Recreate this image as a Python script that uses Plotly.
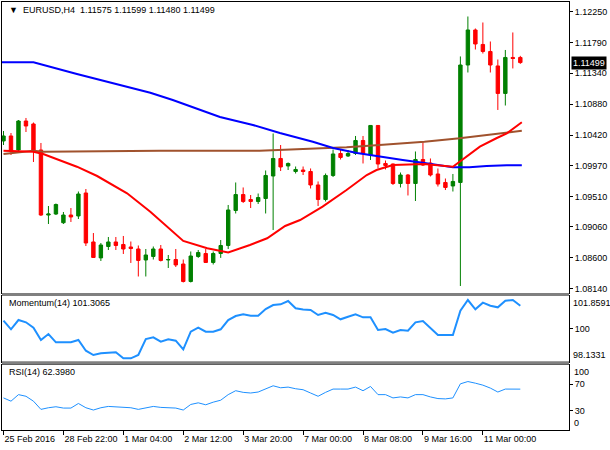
import plotly.graph_objects as go
from plotly.subplots import make_subplots

# ---- price data (H4 bars, index 0..69) ----
bar_open = [1.10336, 1.10410, 1.10202, 1.10632, 1.10588, 1.10202, 1.09237, 1.09252, 1.09123, 1.09237,
            1.09223, 1.09564, 1.08837, 1.08601, 1.08770, 1.08837, 1.08800, 1.08763, 1.08733, 1.08570,
            1.08622, 1.08733, 1.08570, 1.08577, 1.08510, 1.08251, 1.08622, 1.08666, 1.08533, 1.08666,
            1.08785, 1.09304, 1.09541, 1.09467, 1.09438, 1.09482, 1.09816, 1.10076, 1.09965, 1.09883,
            1.09905, 1.09883, 1.09683, 1.09467, 1.09824, 1.10150, 1.10113, 1.10150, 1.10343, 1.10128,
            1.10566, 1.10002, 1.09994, 1.09705, 1.09831, 1.09705, 1.10061, 1.10009, 1.09846, 1.09720,
            1.09668, 1.09720, 1.11463, 1.11983, 1.11768, 1.11664, 1.11449, 1.11041, 1.11575, 1.11575]
bar_high = [1.10484, 1.10454, 1.10647, 1.10677, 1.10610, 1.10306, 1.09371, 1.09408, 1.09282, 1.09341,
            1.09586, 1.09623, 1.08970, 1.08822, 1.08911, 1.08911, 1.08926, 1.08844, 1.08785, 1.08733,
            1.08770, 1.08792, 1.08644, 1.08733, 1.08577, 1.08696, 1.08718, 1.08733, 1.08696, 1.08866,
            1.09386, 1.09720, 1.09646, 1.09534, 1.09556, 1.09898, 1.10447, 1.10276, 1.10017, 1.09957,
            1.09957, 1.09928, 1.09735, 1.09853, 1.10209, 1.10202, 1.10202, 1.10410, 1.10410, 1.10573,
            1.10573, 1.10046, 1.10002, 1.09868, 1.09846, 1.10180, 1.10328, 1.10076, 1.09928, 1.09779,
            1.09846, 1.11590, 1.12183, 1.12005, 1.12094, 1.11812, 1.11545, 1.11686, 1.11946, 1.11599]
bar_low = [1.10276, 1.10128, 1.10187, 1.10469, 1.10024, 1.09223, 1.09104, 1.09237, 1.09104, 1.09134,
           1.09178, 1.08777, 1.08601, 1.08555, 1.08718, 1.08718, 1.08659, 1.08526, 1.08325, 1.08325,
           1.08577, 1.08548, 1.08451, 1.08466, 1.08236, 1.08236, 1.08601, 1.08526, 1.08503, 1.08601,
           1.08733, 1.09260, 1.09416, 1.09341, 1.09401, 1.09260, 1.09015, 1.09890, 1.09905, 1.09853,
           1.09831, 1.09631, 1.09371, 1.09438, 1.09801, 1.10061, 1.10098, 1.10128, 1.10002, 1.10054,
           1.09928, 1.09913, 1.09683, 1.09646, 1.09527, 1.09445, 1.09965, 1.09809, 1.09660, 1.09608,
           1.09586, 1.08184, 1.11352, 1.11693, 1.11634, 1.11352, 1.10796, 1.10862, 1.11412, 1.11480]
bar_close = [1.10410, 1.10187, 1.10632, 1.10558, 1.10202, 1.09237, 1.09252, 1.09393, 1.09237, 1.09208,
             1.09549, 1.08822, 1.08607, 1.08792, 1.08837, 1.08785, 1.08733, 1.08740, 1.08563, 1.08644,
             1.08733, 1.08563, 1.08577, 1.08496, 1.08251, 1.08629, 1.08681, 1.08533, 1.08666, 1.08785,
             1.09312, 1.09541, 1.09438, 1.09438, 1.09497, 1.09824, 1.10076, 1.09950, 1.10002, 1.09913,
             1.09883, 1.09683, 1.09467, 1.09824, 1.10143, 1.10091, 1.10150, 1.10343, 1.10150, 1.10566,
             1.09994, 1.09972, 1.09705, 1.09831, 1.09705, 1.10061, 1.09979, 1.09831, 1.09697, 1.09646,
             1.09735, 1.11463, 1.11983, 1.11775, 1.11664, 1.11463, 1.11041, 1.11575, 1.11560, 1.11499]
bars = list(range(len(bar_close)))

# ---- moving averages (read at sample bar positions) ----
ma_red_x = [0, 4, 5.3, 9.8, 12.5, 16.5, 19.6, 24, 27.2, 30, 32.9, 35.2, 37.6, 39.6, 42.6, 45.8,
            48.5, 49.8, 52, 56.2, 60, 61.8, 63.6, 65.8, 67.2, 69.2]
ma_red_y = [1.10192, 1.10177, 1.10143, 1.09954, 1.09816, 1.09559, 1.09286, 1.08852, 1.08743, 1.08681,
            1.08792, 1.08892, 1.09074, 1.09163, 1.09361, 1.09608, 1.09831, 1.09905, 1.09979, 1.09994,
            1.09954, 1.10103, 1.10251, 1.10376, 1.10450, 1.10613]
ma_brown_x = [0, 4, 5.3, 20.9, 34.2, 38.6, 45.8, 50.2, 56.2, 60.9, 64.5, 69.2]
ma_brown_y = [1.10143, 1.10192, 1.10177, 1.10192, 1.10192, 1.10212, 1.10242, 1.10276, 1.10325,
              1.10376, 1.10425, 1.10488]
ma_blue_x = [-0.2, 4, 9.8, 13.3, 19.6, 22.6, 28.9, 33.3, 36.9, 41.3, 44, 47.2, 50.2, 53.3, 56.2,
             60, 62.2, 64.5, 67.2, 69.2]
ma_blue_y = [1.11503, 1.11503, 1.11330, 1.11230, 1.11052, 1.10944, 1.10692, 1.10573, 1.10454, 1.10325,
             1.10232, 1.10158, 1.10103, 1.10054, 1.10009, 1.09945, 1.09945, 1.09965, 1.09975, 1.09975]

# ---- indicators ----
momentum = [100.454, 99.965, 100.494, 100.363, 100.056, 99.356, 99.697, 99.225, 99.225, 99.225,
            99.356, 98.747, 98.502, 98.599, 98.633, 98.656, 98.315, 98.315, 98.502, 99.413,
            99.509, 99.259, 99.396, 99.316, 98.827, 99.828, 100.056, 99.828, 99.828, 99.965,
            100.494, 100.721, 100.818, 100.738, 100.738, 101.119, 101.347, 101.387, 101.575, 101.159,
            101.091, 101.063, 100.778, 100.909, 100.778, 100.533, 100.681, 100.818, 100.647, 100.647,
            99.925, 99.982, 99.771, 99.925, 99.885, 100.363, 100.437, 100.021, 99.640, 99.640,
            99.640, 101.023, 101.631, 101.102, 101.478, 101.307, 101.216, 101.592, 101.631, 101.3065]
rsi = [49.0, 44.0, 54.0, 51.5, 44.0, 31.5, 34.0, 35.5, 33.5, 33.5,
       40.5, 34.0, 30.5, 34.0, 36.0, 35.0, 34.0, 34.0, 31.5, 34.0,
       36.0, 34.5, 34.5, 33.5, 30.5, 39.0, 41.5, 38.5, 42.5, 45.5,
       54.0, 60.0, 57.5, 56.5, 58.0, 63.0, 67.5, 64.5, 65.5, 63.0,
       61.5, 56.5, 51.5, 57.5, 62.5, 62.5, 62.5, 65.5, 60.0, 66.5,
       54.0, 54.0, 49.0, 50.5, 49.0, 54.0, 54.0, 50.5, 48.0, 47.5,
       49.0, 70.5, 74.0, 71.5, 68.5, 64.0, 58.0, 62.5, 62.5, 62.398]

price_ticks = [1.08140, 1.08600, 1.09060, 1.09510, 1.09970, 1.10420, 1.10880, 1.11340, 1.11790, 1.12250]
time_tick_bars = [0, 8, 16, 24, 32, 40, 48, 56, 64]
time_tick_labels = ["25 Feb 2016", "28 Feb 22:00", "1 Mar 04:00", "2 Mar 12:00", "3 Mar 20:00",
                    "7 Mar 00:00", "8 Mar 08:00", "9 Mar 16:00", "11 Mar 00:00"]
last_price = 1.11499
mom_max, mom_min = 101.8591, 98.1331

FONT = "Liberation Sans, Arial, sans-serif"
GREEN = "#008000"
RED = "#ff0000"

fig = make_subplots(rows=3, cols=1, shared_xaxes=True)

fig.add_trace(go.Candlestick(
    x=bars, open=bar_open, high=bar_high, low=bar_low, close=bar_close,
    increasing=dict(line=dict(color=GREEN, width=1), fillcolor=GREEN),
    decreasing=dict(line=dict(color=RED, width=1), fillcolor=RED),
    whiskerwidth=0, hoverinfo="skip"), row=1, col=1)

fig.add_trace(go.Scatter(x=ma_brown_x, y=ma_brown_y, mode="lines",
                         line=dict(color="#a0522d", width=2)), row=1, col=1)
fig.add_trace(go.Scatter(x=ma_blue_x, y=ma_blue_y, mode="lines",
                         line=dict(color="#0000ff", width=2)), row=1, col=1)
fig.add_trace(go.Scatter(x=ma_red_x, y=ma_red_y, mode="lines",
                         line=dict(color=RED, width=2)), row=1, col=1)

fig.add_trace(go.Scatter(x=bars, y=momentum, mode="lines",
                         line=dict(color="#1e90ff", width=2)), row=2, col=1)
fig.add_trace(go.Scatter(x=bars, y=rsi, mode="lines",
                         line=dict(color="#1e90ff", width=1)), row=3, col=1)

# level lines
fig.add_hline(y=last_price, line=dict(color="black", width=1), row=1, col=1)
fig.add_hline(y=100, line=dict(color="#c0c0c0", width=1, dash="dash"), row=2, col=1)
fig.add_hline(y=70, line=dict(color="#c0c0c0", width=1, dash="dash"), row=3, col=1)
fig.add_hline(y=30, line=dict(color="#c0c0c0", width=1, dash="dash"), row=3, col=1)

axis_common = dict(showline=True, mirror=True, linecolor="black", linewidth=1,
                   showgrid=False, zeroline=False)

for r in (1, 2, 3):
    fig.update_xaxes(range=[-0.2, 75.5], tickvals=time_tick_bars, ticktext=time_tick_labels,
                     showticklabels=(r == 3), ticks="outside" if r == 3 else "",
                     ticklen=4, tickcolor="black", ticklabelposition="outside right",
                     tickangle=0, rangeslider_visible=False, **axis_common, row=r, col=1)

fig.update_yaxes(domain=[0.3201, 1.0], range=[1.08080, 1.12398], side="right",
                 tickvals=price_ticks, tickformat=".5f", ticks="outside", ticklen=3,
                 tickcolor="black", **axis_common, row=1, col=1)
fig.update_yaxes(domain=[0.1600, 0.3131], range=[mom_min, mom_max], side="right",
                 tickvals=[100], ticktext=["100"], ticks="outside", ticklen=3,
                 tickcolor="black", **axis_common, row=2, col=1)
fig.update_yaxes(domain=[0.0, 0.1530], range=[0, 100], side="right",
                 tickvals=[30, 70], ticks="outside", ticklen=3,
                 tickcolor="black", **axis_common, row=3, col=1)

annotations = [
    dict(text="\u25bc  EURUSD,H4  1.11575 1.11599 1.11480 1.11499", xref="paper", yref="paper",
         x=0.008, y=0.998, xanchor="left", yanchor="top", showarrow=False,
         font=dict(size=9, color="black", family=FONT)),
    dict(text="Momentum(14) 101.3065", xref="paper", yref="paper",
         x=0.008, y=0.3131, xanchor="left", yanchor="top", showarrow=False,
         font=dict(size=9, color="black", family=FONT)),
    dict(text="RSI(14) 62.3980", xref="paper", yref="paper",
         x=0.008, y=0.1530, xanchor="left", yanchor="top", showarrow=False,
         font=dict(size=9, color="black", family=FONT)),
    dict(text="%.5f" % last_price, xref="paper", yref="y", x=1.0, y=last_price,
         xanchor="left", yanchor="middle", xshift=2, showarrow=False, bgcolor="black",
         borderpad=1, font=dict(size=9, color="white", family=FONT)),
    dict(text="%.4f" % mom_max, xref="paper", yref="y2", x=1.0, y=mom_max,
         xanchor="left", yanchor="top", xshift=2, showarrow=False,
         font=dict(size=9, color="black", family=FONT)),
    dict(text="%.4f" % mom_min, xref="paper", yref="y2", x=1.0, y=mom_min,
         xanchor="left", yanchor="bottom", xshift=2, showarrow=False,
         font=dict(size=9, color="black", family=FONT)),
    dict(text="100", xref="paper", yref="y3", x=1.0, y=100,
         xanchor="left", yanchor="top", xshift=3, showarrow=False,
         font=dict(size=9, color="black", family=FONT)),
    dict(text="0", xref="paper", yref="y3", x=1.0, y=0,
         xanchor="left", yanchor="bottom", xshift=3, showarrow=False,
         font=dict(size=9, color="black", family=FONT)),
]

# grey separators between the chart windows
shapes = [
    dict(type="rect", xref="paper", yref="paper", x0=0, x1=1, y0=0.3131, y1=0.3201,
         fillcolor="#808080", line=dict(width=0)),
    dict(type="rect", xref="paper", yref="paper", x0=0, x1=1, y0=0.1530, y1=0.1600,
         fillcolor="#808080", line=dict(width=0)),
]

fig.update_layout(
    width=610, height=450,
    margin=dict(l=2, r=41, t=2, b=20),
    paper_bgcolor="white", plot_bgcolor="white",
    showlegend=False, boxgap=0.35,
    font=dict(family=FONT, size=9, color="black"),
    annotations=annotations, shapes=shapes,
    hovermode=False,
)

# drop the default page margin so the chart sits at the window's corner
fig.write_html("out.html", config={"displayModeBar": False},
               post_script="document.body.style.margin='0px';document.body.style.overflow='hidden';")
